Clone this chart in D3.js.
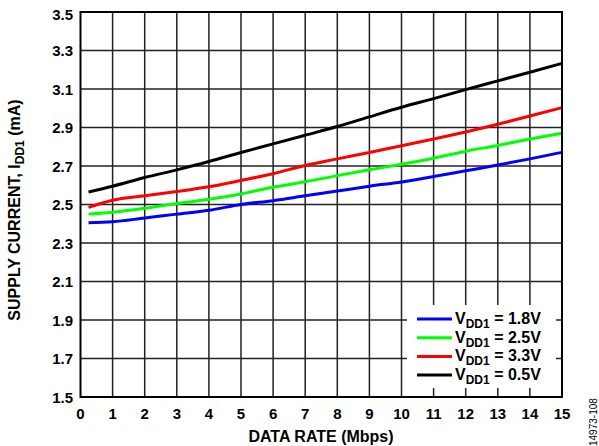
<!DOCTYPE html>
<html>
<head>
<meta charset="utf-8">
<script src="https://cdn.jsdelivr.net/npm/d3@7"></script>
<style>
  body { margin: 0; background: #fff; }
  svg text { font-family: "Liberation Sans", Arial, sans-serif; }
</style>
</head>
<body>
<svg id="chart" width="599" height="446"></svg>
<script>
// data rates (Mbps)
var rates = [0.25, 1, 2, 3, 4, 5, 6, 7, 8, 9, 10, 11, 12, 13, 14, 15];

// supply current IDD1 (mA) for each VDD1
var idd18 = [2.405, 2.41, 2.43, 2.45, 2.47, 2.50, 2.52, 2.545, 2.57, 2.595, 2.617, 2.645, 2.675, 2.705, 2.737, 2.771];
var idd25 = [2.45, 2.46, 2.48, 2.505, 2.527, 2.555, 2.59, 2.618, 2.65, 2.68, 2.709, 2.74, 2.777, 2.807, 2.84, 2.87];
var idd33 = [2.485, 2.522, 2.545, 2.567, 2.592, 2.625, 2.66, 2.703, 2.737, 2.77, 2.805, 2.84, 2.877, 2.917, 2.96, 3.003];
var idd05 = [2.565, 2.595, 2.64, 2.68, 2.723, 2.77, 2.815, 2.86, 2.905, 2.955, 3.005, 3.05, 3.097, 3.142, 3.187, 3.233];

var legendLabels = ["= 1.8V", "= 2.5V", "= 3.3V", "= 0.5V"];
var colors = ["#0000ff", "#00ff00", "#ff0000", "#000000"];
var xTicks = d3.range(0, 16, 1);
var yTicks = [1.5, 1.7, 1.9, 2.1, 2.3, 2.5, 2.7, 2.9, 3.1, 3.3, 3.5];

var svg = d3.select("#chart");
var pLeft = 80.5, pRight = 562, pTop = 12, pBottom = 397;

var x = d3.scaleLinear().domain([0, 15]).range([pLeft, pRight]);
var y = d3.scaleLinear().domain([1.5, 3.5]).range([pBottom, pTop]);

// grid
var grid = svg.append("g");
grid.selectAll("line.v")
    .data(xTicks.slice(1, -1))
    .enter().append("line")
    .attr("x1", d => x(d)).attr("x2", d => x(d))
    .attr("y1", pTop).attr("y2", pBottom)
    .style("stroke", "#222").style("stroke-width", 1.5);
grid.selectAll("line.h")
    .data(yTicks.slice(1, -1))
    .enter().append("line")
    .attr("x1", pLeft).attr("x2", pRight)
    .attr("y1", d => y(d)).attr("y2", d => y(d))
    .style("stroke", "#222").style("stroke-width", 1.5);

// legend background covers grid
var legendG = svg.append("g");
legendG.append("rect")
    .attr("x", 407).attr("y", 305)
    .attr("width", 149).attr("height", 83)
    .style("fill", "#fff");

// series lines
var series = [idd18, idd25, idd33, idd05];
var line = d3.line()
    .x((d, i) => x(rates[i]))
    .y(d => y(d))
    .curve(d3.curveMonotoneX);

svg.append("g").selectAll("path")
    .data(series)
    .enter().append("path")
    .attr("d", d => line(d))
    .style("fill", "none")
    .style("stroke", (d, i) => colors[i])
    .style("stroke-width", 3);

// frame
svg.append("rect")
    .attr("x", pLeft).attr("y", pTop)
    .attr("width", pRight - pLeft).attr("height", pBottom - pTop)
    .style("fill", "none").style("stroke", "#000").style("stroke-width", 2);

// tick labels
svg.append("g").selectAll("text")
    .data(yTicks)
    .enter().append("text")
    .attr("x", 73).attr("y", d => y(d) + (d == 3.5 ? 8 : 5.5))
    .attr("text-anchor", "end")
    .style("font-size", "15px").style("font-weight", "bold")
    .text(d => d.toFixed(1));

svg.append("g").selectAll("text")
    .data(xTicks)
    .enter().append("text")
    .attr("x", d => x(d)).attr("y", 419)
    .attr("text-anchor", "middle")
    .style("font-size", "15px").style("font-weight", "bold")
    .text(d => d);

// axis titles
svg.append("text")
    .attr("x", 321).attr("y", 442)
    .attr("text-anchor", "middle")
    .style("font-size", "16px").style("font-weight", "bold")
    .text("DATA RATE (Mbps)");

var yt = svg.append("text")
    .attr("transform", "translate(20,210) rotate(-90)")
    .attr("text-anchor", "middle")
    .style("font-size", "16px").style("font-weight", "bold");
yt.append("tspan").text("SUPPLY CURRENT, I");
yt.append("tspan").attr("dy", 4).style("font-size", "12px").text("DD1");
yt.append("tspan").attr("dy", -4).text(" (mA)");

svg.append("text")
    .attr("transform", "translate(597,446) rotate(-90)")
    .style("font-size", "10px")
    .text("14973-108");

// legend entries
var rows = legendG.selectAll("g.row")
    .data(legendLabels)
    .enter().append("g")
    .attr("transform", (d, i) => "translate(0," + (319 + i * 18.7) + ")");
rows.append("line")
    .attr("x1", 417).attr("x2", 452)
    .attr("y1", 0).attr("y2", 0)
    .style("stroke", (d, i) => colors[i]).style("stroke-width", 3);
var lt = rows.append("text")
    .attr("x", 455).attr("y", 5)
    .style("font-size", "16px").style("font-weight", "bold");
lt.append("tspan").text("V");
lt.append("tspan").attr("dy", 4).style("font-size", "12px").text("DD1");
lt.append("tspan").attr("dy", -4).text(d => " " + d);
</script>
</body>
</html>
